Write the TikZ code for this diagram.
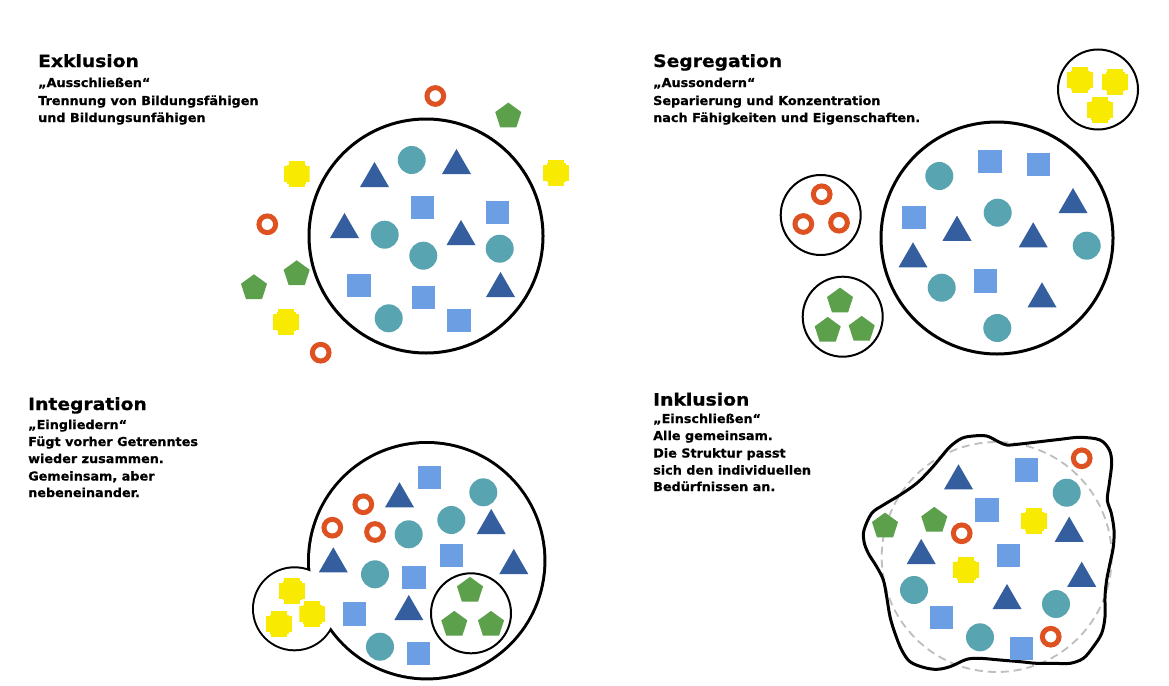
\documentclass[tikz,border=0pt]{standalone}
\usepackage{fontspec}
\usetikzlibrary{shapes.geometric}
\newfontfamily\ttlfont{DejaVu Sans Bold}[FakeStretch=1.1, FakeBold=0.8]
\newfontfamily\bdyfont{DejaVu Sans Bold}[FakeStretch=1.04, FakeBold=0.6]
\definecolor{cteal}{RGB}{88,164,176}
\definecolor{csq}{RGB}{108,158,228}
\definecolor{ctri}{RGB}{52,94,158}
\definecolor{corange}{RGB}{222,82,34}
\definecolor{cgreen}{RGB}{92,160,76}
\definecolor{cyel}{RGB}{248,234,0}
\definecolor{cdash}{RGB}{190,190,190}
\tikzset{
  tc/.style={circle, fill=cteal, minimum size=28pt, inner sep=0pt},
  sq/.style={rectangle, fill=csq, minimum size=23.5pt, inner sep=0pt},
  tri/.style={regular polygon, regular polygon sides=3, fill=ctri, minimum size=33.5pt, inner sep=0pt},
  pent/.style={regular polygon, regular polygon sides=5, fill=cgreen, minimum size=27.4pt, inner sep=0pt},
  ring/.style={circle, draw=corange, line width=5pt, minimum size=16.7pt, inner sep=0pt},
  crs/.style={rectangle, minimum size=26pt, inner sep=0pt, path picture={
     \fill[cyel] ([shift={(-8pt,-13pt)}]path picture bounding box.center) rectangle ++(16pt,26pt);
     \fill[cyel] ([shift={(-13pt,-8pt)}]path picture bounding box.center) rectangle ++(26pt,16pt);
     \fill[cyel] ([shift={(-9.5pt,-9.5pt)}]path picture bounding box.center) rectangle ++(19pt,19pt);}},
  bigc/.style={circle, draw=black, line width=3pt, inner sep=0pt},
  grpc/.style={circle, draw=black, line width=2pt, inner sep=0pt},
  ttl/.style={anchor=base west, inner sep=0pt, font=\ttlfont\fontsize{17}{20}\selectfont},
  bdy/.style={anchor=base west, inner sep=0pt, font=\bdyfont\fontsize{12.3}{15}\selectfont},
}
\begin{document}
\begin{tikzpicture}[x=1pt,y=-1pt]
\fill[white] (0,0) rectangle (1169,685);
\useasboundingbox (0,0) rectangle (1169,685);

% ---------------- Texts ----------------
\node[ttl] (t1) at (38,67) {Exklusion};
\node[bdy] (t1a) at (38,87) {„Ausschließen“};
\node[bdy] (t1b) at (38,105) {Trennung von Bildungsfähigen};
\node[bdy] (t1c) at (38,122) {und Bildungsunfähigen};

\node[ttl] (t2) at (653,67) {Segregation};
\node[bdy] (t2a) at (653,87) {„Aussondern“};
\node[bdy] (t2b) at (653,105) {Separierung und Konzentration};
\node[bdy] (t2c) at (653,122) {nach Fähigkeiten und Eigenschaften.};

\node[ttl] (t3) at (28,410) {Integration};
\node[bdy] (t3a) at (28,429) {„Eingliedern“};
\node[bdy] (t3b) at (28,446) {Fügt vorher Getrenntes};
\node[bdy] (t3c) at (28,463) {wieder zusammen.};
\node[bdy] (t3d) at (28,480.5) {Gemeinsam, aber};
\node[bdy] (t3e) at (28,497) {nebeneinander.};

\node[ttl] (t4) at (653,405.5) {Inklusion};
\node[bdy] (t4a) at (653,423) {„Einschließen“};
\node[bdy] (t4b) at (653,440) {Alle gemeinsam.};
\node[bdy] (t4c) at (653,457.5) {Die Struktur passt};
\node[bdy] (t4d) at (653,474.5) {sich den individuellen};
\node[bdy] (t4e) at (653,491) {Bedürfnissen an.};

% ---------------- Exklusion ----------------
\node[bigc, minimum size=234pt] (E) at (426,236) {};
\node[tri] (e1) at (374.5,178.7) {};
\node[tc] (e2) at (411.7,160) {};
\node[tri] (e3) at (456.5,165.7) {};
\node[sq] (e4) at (422.7,207.7) {};
\node[sq] (e5) at (497.3,212.3) {};
\node[tri] (e6) at (344.5,229.7) {};
\node[tc] (e7) at (384.7,234.7) {};
\node[tri] (e8) at (461,236.7) {};
\node[tc] (e9) at (423.3,255.7) {};
\node[tc] (e10) at (499.7,248.7) {};
\node[sq] (e11) at (359,285.7) {};
\node[sq] (e12) at (423.3,297.7) {};
\node[tri] (e13) at (500.5,288.7) {};
\node[tc] (e14) at (388.7,318.3) {};
\node[sq] (e15) at (459,320.7) {};
\node[ring] (e16) at (435.3,96) {};
\node[pent] (e17) at (508.3,116.3) {};
\node[crs] (e18) at (556,172.7) {};
\node[crs] (e19) at (296.7,174.3) {};
\node[ring] (e20) at (267.3,224.3) {};
\node[pent] (e21) at (296.7,274) {};
\node[pent] (e22) at (254,288) {};
\node[crs] (e23) at (286,321.7) {};
\node[ring] (e24) at (320.7,352.7) {};

% ---------------- Segregation ----------------
\node[bigc, minimum size=232pt] (S) at (997,238) {};
\node[grpc, minimum size=80pt] (Sy) at (1098,89.5) {};
\node[grpc, minimum size=80pt] (So) at (820.7,215) {};
\node[grpc, minimum size=80pt] (Sg) at (842.7,316.7) {};
\node[crs] (s1) at (1080,80) {};
\node[crs] (s2) at (1115,81.7) {};
\node[crs] (s3) at (1100,110) {};
\node[ring] (s4) at (821.7,194.3) {};
\node[ring] (s5) at (803.3,224) {};
\node[ring] (s6) at (839,222.7) {};
\node[pent] (s7) at (840,301.3) {};
\node[pent] (s8) at (827.7,330.6) {};
\node[pent] (s9) at (861.7,329.6) {};
\node[tc] (s10) at (939.3,176) {};
\node[sq] (s11) at (990,161.7) {};
\node[sq] (s12) at (1038.7,164.3) {};
\node[tri] (s13) at (1073,204.7) {};
\node[sq] (s14) at (914,217.7) {};
\node[tc] (s15) at (997.7,212.7) {};
\node[tri] (s16) at (957,232.4) {};
\node[tri] (s17) at (1033.2,239) {};
\node[tc] (s18) at (1086.7,245.7) {};
\node[tri] (s19) at (913,259) {};
\node[tc] (s20) at (941.7,287.7) {};
\node[sq] (s21) at (985.3,281) {};
\node[tri] (s22) at (1042,299) {};
\node[tc] (s23) at (997.3,328) {};

% ---------------- Integration ----------------
\node[circle, draw=black, line width=6pt, minimum size=233.4pt, inner sep=0pt] (I) at (426.7,560.7) {};
\node[circle, draw=black, line width=4pt, minimum size=81pt, inner sep=0pt] (Iy) at (294.5,608.8) {};
\node[circle, fill=white, minimum size=233.4pt, inner sep=0pt] (Iw) at (426.7,560.7) {};
\node[circle, fill=white, minimum size=81pt, inner sep=0pt] (Iyw) at (294.5,608.8) {};
\node[grpc, minimum size=80pt] (Ig) at (471,613.3) {};
\node[pent] (i1) at (470,590.6) {};
\node[pent] (i2) at (454.3,624.6) {};
\node[pent] (i3) at (491,624.6) {};
\node[crs] (i4) at (292,590.7) {};
\node[crs] (i5) at (279,624.3) {};
\node[crs] (i6) at (312.3,614.3) {};
\node[sq] (i7) at (429.3,477.3) {};
\node[tc] (i8) at (483.3,492.3) {};
\node[tri] (i9) at (399.5,499) {};
\node[ring] (i10) at (363.3,504.3) {};
\node[ring] (i11) at (332.3,527.7) {};
\node[ring] (i12) at (375,532) {};
\node[tc] (i13) at (408.7,534.3) {};
\node[tc] (i14) at (451.3,520) {};
\node[tri] (i15) at (491.2,525.7) {};
\node[tri] (i16) at (333.3,564) {};
\node[sq] (i17) at (451.7,555.7) {};
\node[tri] (i18) at (513.8,565.7) {};
\node[tc] (i19) at (375,574.3) {};
\node[sq] (i20) at (414,577.3) {};
\node[tri] (i21) at (408.8,611.7) {};
\node[sq] (i22) at (354.3,614) {};
\node[tc] (i23) at (380,646.7) {};
\node[sq] (i24) at (418.3,653.3) {};

% ---------------- Inklusion ----------------
\node[circle, draw=cdash, line width=1.8pt, dash pattern=on 8pt off 5pt, minimum size=230pt, inner sep=0pt] (K) at (996.7,557) {};
\begin{scope}[shift={(840,430)}, scale=1/3]
\draw[line width=3pt, line join=round] plot[smooth cycle, tension=0.55] coordinates {
 (72,300) (95,250) (130,225) (180,195) (230,160) (270,120) (300,85) (330,50)
 (365,25) (400,18) (440,18) (475,35) (500,45) (540,42) (600,35) (660,28)
 (720,22) (780,30) (808,60) (815,100) (808,160) (802,210) (814,250) (822,300)
 (820,350) (810,400) (800,450) (795,500) (795,560) (785,610) (760,650) (730,685)
 (690,700) (640,700) (590,700) (540,695) (480,690) (420,685) (380,688) (330,710)
 (290,718) (250,712) (210,695) (185,660) (165,610) (150,560) (140,500) (130,450)
 (110,410) (85,370) (72,335)};
\end{scope}
\node[ring] (k1) at (1081.7,458.3) {};
\node[sq] (k2) at (1026.7,470) {};
\node[tri] (k3) at (958.5,481) {};
\node[tc] (k4) at (1066.7,492.7) {};
\node[sq] (k5) at (987,510) {};
\node[crs] (k6) at (1034,521) {};
\node[pent] (k7) at (885,526.3) {};
\node[pent] (k8) at (934.3,520.6) {};
\node[ring] (k9) at (961.7,533.3) {};
\node[tri] (k10) at (1069.2,533.4) {};
\node[tri] (k11) at (921.2,555.7) {};
\node[sq] (k12) at (1008.3,555.7) {};
\node[crs] (k13) at (966,570) {};
\node[tri] (k14) at (1081.7,578.4) {};
\node[tc] (k15) at (914,590) {};
\node[tri] (k16) at (1007,600.7) {};
\node[tc] (k17) at (1056,604) {};
\node[sq] (k18) at (941.7,617.7) {};
\node[tc] (k19) at (980,637.3) {};
\node[ring] (k20) at (1050.7,636.7) {};
\node[sq] (k21) at (1021.7,648.3) {};
\end{tikzpicture}
\end{document}
